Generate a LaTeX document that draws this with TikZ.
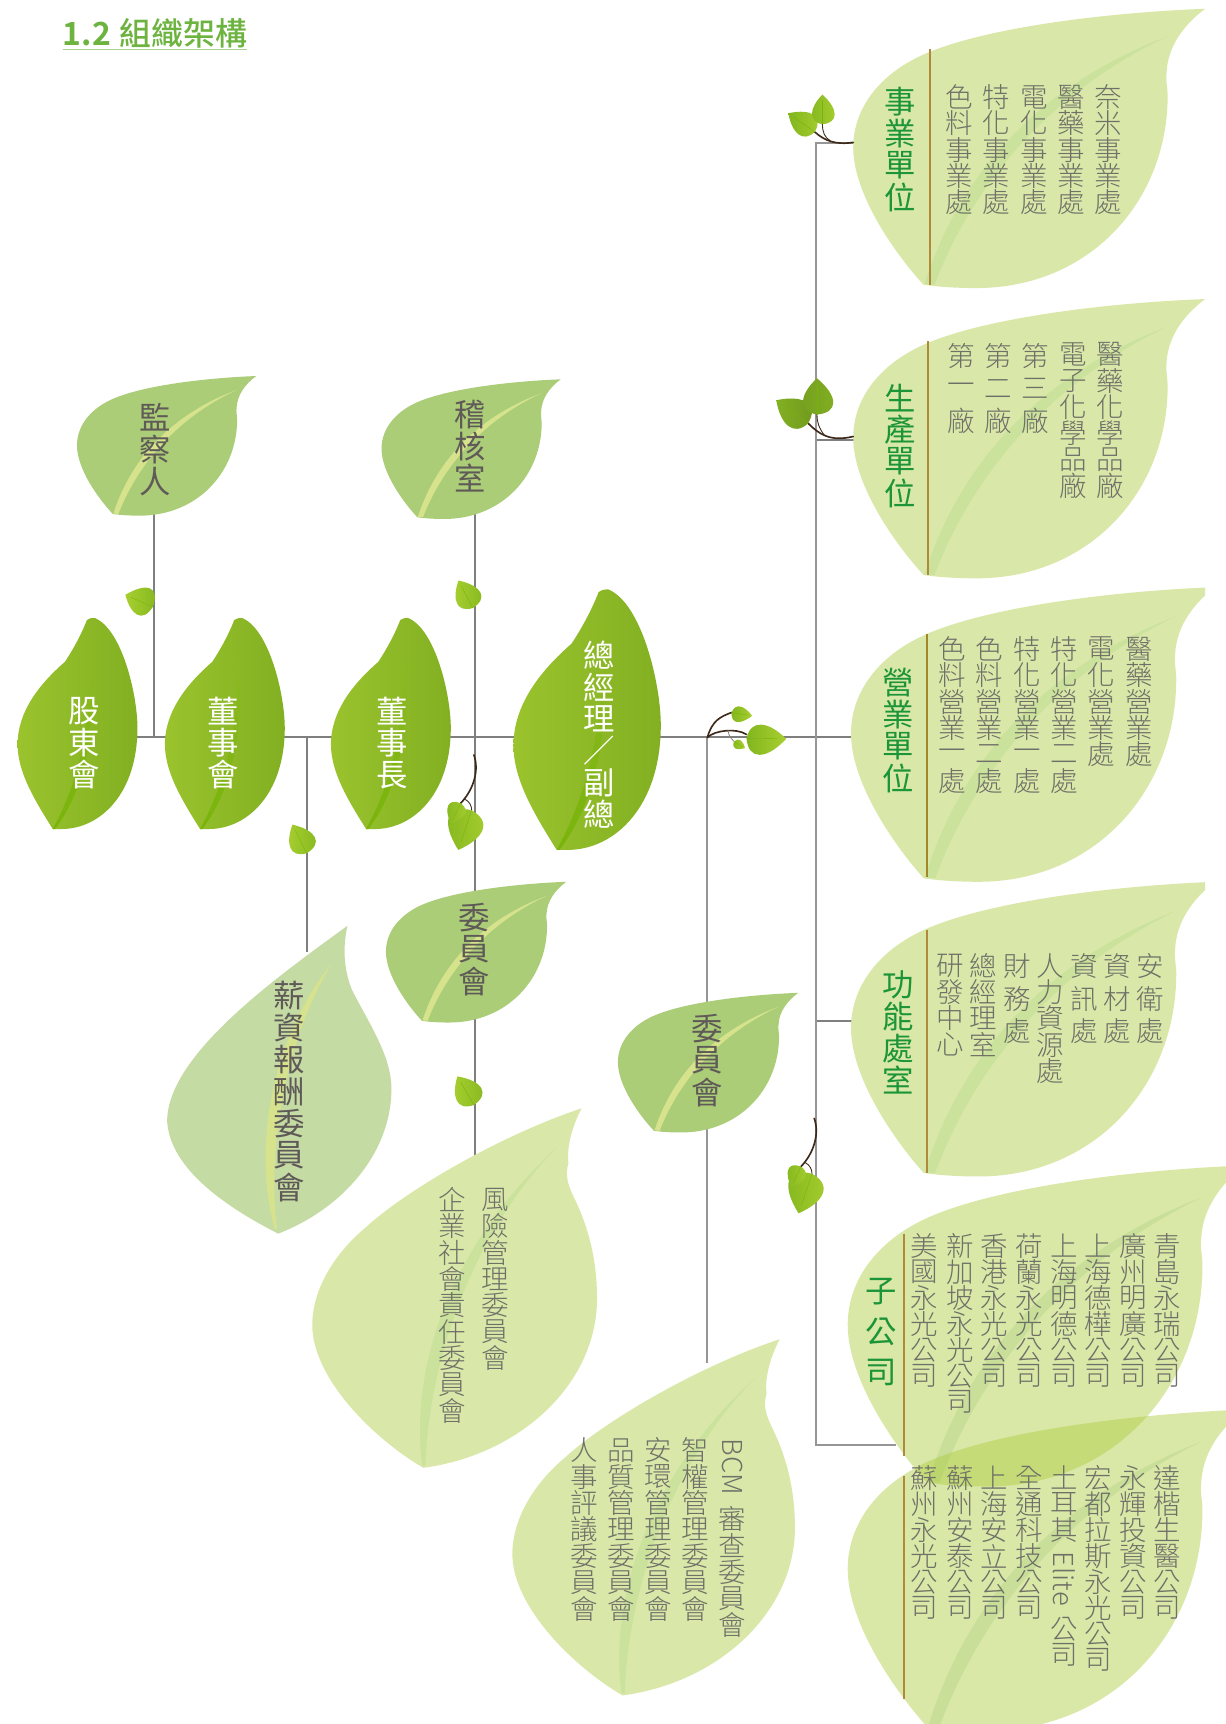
\documentclass[tikz,border=0pt]{standalone}
\usepackage{graphicx}
\usepackage{fontspec}
\setmainfont{Noto Sans CJK TC}[UprightFont=* Light,BoldFont=* Bold]
\newfontfamily\regfont{Noto Sans CJK TC}
\newfontfamily\medfont{Noto Sans CJK TC Medium}
\definecolor{conncol}{HTML}{7F7F7F}
\definecolor{spinecol}{HTML}{969696}
\definecolor{paleleaf}{HTML}{D9E8A8}
\definecolor{paleveins}{HTML}{CBE29C}
\definecolor{glassleaf}{HTML}{ABCC3E}
\definecolor{glassvein}{HTML}{B6D689}
\definecolor{midleaf}{HTML}{ABCD78}
\definecolor{midvein}{HTML}{D6E38C}
\definecolor{softleaf}{HTML}{C5DBA4}
\definecolor{darkleft}{HTML}{9AC32D}
\definecolor{darkright}{HTML}{82B022}
\definecolor{darkvein}{HTML}{79B40A}
\definecolor{sprigA}{HTML}{A8CF30}
\definecolor{sprigB}{HTML}{82B61E}
\definecolor{stemcol}{HTML}{3E2A1A}
\definecolor{headgreen}{HTML}{1C9438}
\definecolor{titlegreen}{HTML}{6DB33F}
\definecolor{paletext}{HTML}{6F7068}
\definecolor{midtext}{HTML}{5F5A57}
\definecolor{rulecol}{HTML}{B08A3A}
% vertical text
\newcommand\vcol[2]{\vbox{\offinterlineskip\def\vpitch{#1}#2}}
\def\vcharloop#1{\ifx\relax#1\else\vbox to \vpitch{\vss\hbox to 1em{\hss#1\hss}\vss}\expandafter\vcharloop\fi}
\newcommand\vrun[1]{\vcharloop#1\relax}
\newcommand\vside[3]{\vbox{\kern#1pt\hbox to 1em{\hss\rotatebox{-90}{#2}\hss}\kern#3pt}}
\newcommand\col[6]{\node[#1,anchor=north] (#2) at (#3,#4) {\vcol{#5pt}{#6}};}
% leaf boxes
\newcommand\lbox[5]{\node[leafbox,minimum width=#4pt,minimum height=#5pt,anchor=north west] (#1) at (#2,#3) {};}
\newcommand\leafApath{(320,0) .. controls (240,3) and (130,15) .. (70,39) .. controls (25,57) and (0,90) .. (0,126) .. controls (0,170) and (40,225) .. (64,251) .. controls (78,253) and (95,254) .. (112,254) .. controls (215,254) and (286,175) .. (286,79) .. controls (286,72) and (284,65) .. (285,58) .. controls (286,35) and (300,15) .. (320,0) -- cycle}
\newcommand\veinApath{(65,250) .. controls (100,140) and (180,65) .. (286,25) .. controls (190,70) and (112,150) .. (74,251) -- cycle}
\newcommand\leafA[6][]{\begin{scope}[shift={(#2.north west)},xscale=#3/320,yscale=#4/254]
  \fill[#5,#1] \leafApath; \fill[#6,#1] \veinApath; \end{scope}}
\newcommand\leafBpath{(245,0) .. controls (170,25) and (85,75) .. (49,108) .. controls (20,132) and (0,165) .. (0,197) .. controls (0,245) and (55,300) .. (101,327) .. controls (190,315) and (259,250) .. (259,173) .. controls (259,135) and (250,105) .. (237,79) .. controls (232,68) and (230,60) .. (233,50) .. controls (231,35) and (237,15) .. (245,0) -- cycle}
\newcommand\veinBpath{(100,325) .. controls (88,230) and (130,120) .. (222,36) .. controls (145,115) and (106,230) .. (103,325) -- cycle}
\newcommand\leafB[5]{\begin{scope}[shift={(#1.north west)},xscale=#2/259,yscale=#3/327]
  \fill[#4] \leafBpath; \fill[#5] \veinBpath; \end{scope}}
\newcommand\leafD[3]{\begin{scope}[shift={(#1.north west)},xscale=#2/109,yscale=#3/192]
  \shade[left color=darkleft,right color=darkright] (32,192) .. controls (15,165) and (0,140) .. (0,115) .. controls (0,85) and (20,60) .. (43,40) .. controls (53,25) and (60,10) .. (63,2) .. controls (66,0) and (68,0) .. (70,0) .. controls (95,10) and (109,70) .. (109,100) .. controls (109,160) and (75,192) .. (40,192) -- cycle;
  \shade[top color=darkleft!50!darkright,bottom color=darkvein] (32,192) .. controls (55,150) and (68,100) .. (67,20) .. controls (72,90) and (66,150) .. (34,192) -- cycle;
  \end{scope}}
% small leaf: base, tip, width, two colours
\newcommand\sleaf[7]{\begingroup
  \pgfmathsetmacro\sang{atan2(-((#4)-(#2)),(#3)-(#1))}%
  \pgfmathsetmacro\slen{veclen((#3)-(#1),(#4)-(#2))}%
  \begin{scope}[shift={(#1,#2)},rotate=\sang,scale=\slen]
  \shade[left color=#6,right color=#7] (0,0) .. controls (0.05,#5) and (0.5,#5) .. (1,0) .. controls (0.55,-#5*0.8) and (0.1,-#5*0.9) .. (0,0) -- cycle;
  \draw[darkvein,line width=.35pt] (0,0) -- (0.8,0);
  \end{scope}\endgroup}
\newcommand\sprigBr[2]{\begin{scope}[shift={(#1,#2)}]
  \draw[stemline] (431,686.6) .. controls (436,700) and (431,718) .. (419,730.5);
  \draw[stemline,line width=.8pt] (423,727) .. controls (427,729) and (429,733) .. (429,737);
  \sleaf{429}{737}{416.8}{773}{0.62}{sprigB}{sprigA}
  \sleaf{419}{730.5}{410}{749}{0.6}{sprigB}{sprigA}
  \end{scope}}
\tikzset{
  leafbox/.style={inner sep=0pt,outer sep=0pt,draw=none},
  conn/.style={draw=conncol,line width=1.8pt},
  stemline/.style={draw=stemcol,line width=1.5pt,line cap=round},
  divider/.style={draw=rulecol,line width=2pt},
  colpale/.style={inner sep=0pt,text=paletext,font=\fontsize{25}{25}\selectfont},
  colhead/.style={inner sep=0pt,text=headgreen,font=\regfont\fontsize{28.5}{28.5}\selectfont},
  colmid/.style={inner sep=0pt,text=midtext,font=\regfont\fontsize{28.5}{28.5}\selectfont},
  colwhite/.style={inner sep=0pt,text=white,font=\regfont\fontsize{28.5}{28.5}\selectfont},
}
\begin{document}
\begin{tikzpicture}[x=1pt,y=-1pt]
\useasboundingbox (0,0) rectangle (1115,1568);
\clip (0,0) rectangle (1115,1568);
\fill[white] (0,0) rectangle (1115,1568);
% invisible leaf boxes
\lbox{shiye}{776}{8}{320}{254}
\lbox{sheng}{776}{272}{320}{254}
\lbox{yingye}{774}{534}{331}{268}
\lbox{gongneng}{774}{802}{331}{268}
\lbox{zigs}{771}{1060}{361}{292}
\lbox{zigsb}{771}{1282}{361}{292}
\lbox{jiancha}{70}{342}{163}{127}
\lbox{jihe}{347}{345}{163}{127}
\lbox{weia}{351}{802}{164}{128}
\lbox{weib}{562}{903}{164}{127}
\lbox{gudong}{16}{562}{109}{192}
\lbox{dongshi}{150}{562}{109}{192}
\lbox{dongzhang}{301}{562}{109}{192}
\lbox{zongjingli}{467}{536}{134}{237}
\lbox{xinzi}{152}{842}{204}{280}
\lbox{fengxian}{284}{1008}{259}{327}
\lbox{bcm}{466}{1218}{257}{324}
% connector ends
\coordinate (trunk) at (0,670);
\coordinate (spine) at (742,0);
\coordinate (jianchaOut) at (140,460);
\coordinate (jiheOut) at (432,465);
\coordinate (weiaIn) at (432,818);
\coordinate (weiaOut) at (432,925);
\coordinate (fengxianIn) at (432,1055);
\coordinate (xinziJoin) at (279,670);
\coordinate (xinziIn) at (279,866);
\coordinate (weibJoin) at (643,670);
\coordinate (weibIn) at (643,915);
\coordinate (weibOut) at (643,1025);
\coordinate (bcmIn) at (643,1240);
\coordinate (shiyeIn) at (790,130);
\coordinate (shengIn) at (790,400);
\coordinate (gongnengIn) at (790,929);
\coordinate (zigsIn) at (815,1314);
% connectors
\draw[conn] (gudong |- trunk) -- (yingye |- trunk);
\draw[conn] (jianchaOut) -- (jianchaOut |- trunk);
\draw[conn] (jiheOut) -- (weiaIn);
\draw[conn] (weiaOut) -- (fengxianIn);
\draw[conn] (xinziJoin) -- (xinziIn);
\draw[conn,draw=spinecol,line width=2pt] (weibJoin) -- (weibIn);
\draw[conn,draw=spinecol,line width=2pt] (weibOut) -- (bcmIn);
\draw[conn] (shengIn) -- (shengIn -| spine);
\draw[conn] (gongnengIn) -- (gongnengIn -| spine);
\draw[conn,line width=2.2pt,draw=spinecol] (shiyeIn) -- (shiyeIn -| spine) -- (zigsIn -| spine) -- (zigsIn);
% leaves
\leafA{shiye}{320}{254}{paleleaf}{paleveins}
\leafA{sheng}{320}{254}{paleleaf}{paleveins}
\begin{scope}
\clip (0,0) rectangle (1096,1568);
\leafA{yingye}{331}{268}{paleleaf}{paleveins}
\leafA{gongneng}{331}{268}{paleleaf}{paleveins}
\end{scope}
\leafA[opacity=0.45]{zigs}{361}{292}{glassleaf}{glassvein}
\leafA[opacity=0.45]{zigsb}{361}{292}{glassleaf}{glassvein}
\leafA{jiancha}{163}{127}{midleaf}{midvein}
\leafA{jihe}{163}{127}{midleaf}{midvein}
\leafA{weia}{164}{128}{midleaf}{midvein}
\leafA{weib}{164}{127}{midleaf}{midvein}
\leafD{gudong}{109}{192}
\leafD{dongshi}{109}{192}
\leafD{dongzhang}{109}{192}
\leafD{zongjingli}{134}{237}
% salary committee leaf
\fill[softleaf] (316,842) .. controls (250,890) and (152,960) .. (152,1020) .. controls (155,1065) and (210,1100) .. (253,1122) .. controls (310,1100) and (356,1050) .. (356,990) .. controls (356,960) and (335,930) .. (320,900) .. controls (312,880) and (312,860) .. (316,842) -- cycle;
\fill[midvein] (250,1118) .. controls (228,1040) and (250,940) .. (302,876) .. controls (262,940) and (242,1040) .. (252,1118) -- cycle;
\leafB{fengxian}{259}{327}{paleleaf}{paleveins}
\leafB{bcm}{257}{324}{paleleaf}{paleveins}
% dividers
\draw[divider] (846,45) -- (846,259);
\draw[divider] (844,310) -- (844,523);
\draw[divider,draw=rulecol!70!olive] (843,577) -- (843,798);
\draw[divider] (843,846) -- (843,1067);
\draw[divider] (822,1122) -- (822,1324);
\draw[divider] (822,1342) -- (822,1545);
% sprigs
\draw[stemline] (776,129.5) .. controls (760,132) and (750,128) .. (741,120);
\draw[stemline,line width=.8pt] (755,128) .. controls (750,125) and (748,120) .. (748,113);
\sleaf{741}{120}{717}{103}{0.55}{sprigB}{sprigA}
\sleaf{748}{113}{748}{86}{0.55}{sprigB}{sprigA}
\draw[stemline] (776,397) .. controls (755,402) and (745,395) .. (735,385);
\draw[stemline,line width=.8pt] (750,396) .. controls (745,390) and (743,384) .. (743,377);
\sleaf{735}{385}{706}{364}{0.55}{darkright}{darkright!85!black}
\sleaf{743}{377}{743}{344}{0.6}{darkright!90!black}{darkright}
\draw[stemline] (643.3,670.8) .. controls (648,655) and (655,652) .. (665.4,648);
\draw[stemline] (643.3,670.8) .. controls (650,664) and (670,662) .. (679,668);
\draw[stemline,line width=.7pt,draw=stemcol!60] (662,664) .. controls (663,670) and (665,672) .. (667.7,674.5);
\sleaf{665.4}{648}{684}{651}{0.55}{sprigB}{sprigA}
\sleaf{679}{671.5}{715}{672}{0.55}{sprigB}{sprigA}
\sleaf{667.7}{674.5}{677.6}{680.4}{0.55}{sprigB}{sprigA}
\sleaf{139}{552}{114}{541}{0.7}{sprigA}{sprigB}
\sleaf{430}{553}{417}{528}{0.6}{sprigA}{sprigB}
\sleaf{279}{776}{266}{750}{0.6}{sprigA}{sprigB}
\sleaf{431}{1005}{416}{979}{0.6}{sprigA}{sprigB}
\sprigBr{0}{0}
\sprigBr{309.5}{330.5}
% title
\node[inner sep=0pt,anchor=base west,text=titlegreen,font=\fontsize{29}{29}\selectfont] (title) at (57,41) {\textbf{1.2}\hspace{0.28em}{\medfont 組織架構}};
\coordinate (titleL) at (57,45);
\coordinate (titleR) at (225,45);
\draw[draw=titlegreen!60,line width=1.2pt] (titleL) -- (titleR);
% heads and columns
\col{colhead}{t1}{819}{78}{29}{\vrun{事業單位}}
\col{colpale}{a1}{872}{76}{24}{\vrun{色料事業處}}
\col{colpale}{a2}{906.5}{76}{24}{\vrun{特化事業處}}
\col{colpale}{a3}{940.5}{76}{24}{\vrun{電化事業處}}
\col{colpale}{a4}{974.5}{76}{24}{\vrun{醫藥事業處}}
\col{colpale}{a5}{1008}{76}{24}{\vrun{奈米事業處}}
\col{colhead}{t2}{819}{347}{29}{\vrun{生產單位}}
\col{colpale}{b1}{874}{309}{29.5}{\vrun{第一廠}}
\col{colpale}{b2}{908}{309}{29.5}{\vrun{第二廠}}
\col{colpale}{b3}{942}{309}{29.5}{\vrun{第三廠}}
\col{colpale}{b4}{976}{310}{24}{\vrun{電子化學品廠}}
\col{colpale}{b5}{1010}{310}{24}{\vrun{醫藥化學品廠}}
\col{colhead}{t3}{817}{606}{29}{\vrun{營業單位}}
\col{colpale}{c1}{866}{578}{24}{\vrun{色料營業一處}}
\col{colpale}{c2}{900}{578}{24}{\vrun{色料營業二處}}
\col{colpale}{c3}{934}{578}{24}{\vrun{特化營業一處}}
\col{colpale}{c4}{968}{578}{24}{\vrun{特化營業二處}}
\col{colpale}{c5}{1002}{578}{24}{\vrun{電化營業處}}
\col{colpale}{c6}{1036}{578}{24}{\vrun{醫藥營業處}}
\col{colhead}{t4}{817}{881}{29}{\vrun{功能處室}}
\col{colpale}{d1}{864}{866}{24}{\vrun{研發中心}}
\col{colpale}{d2}{894}{866}{24}{\vrun{總經理室}}
\col{colpale}{d3}{925}{864}{29.5}{\vrun{財務處}}
\col{colpale}{d4}{955}{866}{24}{\vrun{人力資源處}}
\col{colpale}{d5}{986}{864}{29.5}{\vrun{資訊處}}
\col{colpale}{d6}{1016}{864}{29.5}{\vrun{資材處}}
\col{colpale}{d7}{1046}{864}{29.5}{\vrun{安衛處}}
\col{colhead}{t5}{801.5}{1156}{37}{\vrun{子公司}}
\col{colpale}{e1}{841}{1121}{23.7}{\vrun{美國永光公司}}
\col{colpale}{e2}{873}{1121}{23.7}{\vrun{新加坡永光公司}}
\col{colpale}{e3}{904}{1121}{23.7}{\vrun{香港永光公司}}
\col{colpale}{e4}{936}{1121}{23.7}{\vrun{荷蘭永光公司}}
\col{colpale}{e5}{967.5}{1121}{23.7}{\vrun{上海明德公司}}
\col{colpale}{e6}{999}{1121}{23.7}{\vrun{上海德樺公司}}
\col{colpale}{e7}{1030.5}{1121}{23.7}{\vrun{廣州明廣公司}}
\col{colpale}{e8}{1062}{1121}{23.7}{\vrun{青島永瑞公司}}
\col{colpale}{f1}{841}{1332}{23.7}{\vrun{蘇州永光公司}}
\col{colpale}{f2}{873}{1332}{23.7}{\vrun{蘇州安泰公司}}
\col{colpale}{f3}{904}{1332}{23.7}{\vrun{上海安立公司}}
\col{colpale}{f4}{936}{1332}{23.7}{\vrun{全通科技公司}}
\col{colpale}{f5}{967.5}{1332}{23.7}{\vrun{土耳其}\vside{8}{Elite}{9}\vrun{公司}}
\col{colpale}{f6}{999}{1332}{23.7}{\vrun{宏都拉斯永光公司}}
\col{colpale}{f7}{1030.5}{1332}{23.7}{\vrun{永輝投資公司}}
\col{colpale}{f8}{1062}{1332}{23.7}{\vrun{達楷生醫公司}}
\col{colmid}{m1}{141.5}{365}{29}{\vrun{監察人}}
\col{colmid}{m2}{428}{362}{29}{\vrun{稽核室}}
\col{colmid}{m3}{431.5}{820}{29}{\vrun{委員會}}
\col{colmid}{m4}{643}{921}{29}{\vrun{委員會}}
\col{colmid}{m5}{263}{891}{29}{\vrun{薪資報酬委員會}}
\col{colwhite}{w1}{77}{632}{29}{\vrun{股東會}}
\col{colwhite}{w2}{203}{632}{29}{\vrun{董事會}}
\col{colwhite}{w3}{357}{632}{29}{\vrun{董事長}}
\col{colwhite}{w4}{545}{581}{29}{\vrun{總經理／副總}}
\col{colpale}{g1}{450}{1079}{24}{\vrun{風險管理委員會}}
\col{colpale}{g2}{411}{1079}{24}{\vrun{企業社會責任委員會}}
\col{colpale}{h1}{666}{1308}{24}{\vside{0}{BCM}{10}\vrun{審查委員會}}
\col{colpale}{h2}{632.5}{1307}{24}{\vrun{智權管理委員會}}
\col{colpale}{h3}{599}{1307}{24}{\vrun{安環管理委員會}}
\col{colpale}{h4}{565}{1307}{24}{\vrun{品質管理委員會}}
\col{colpale}{h5}{531}{1307}{24}{\vrun{人事評議委員會}}
\end{tikzpicture}
\end{document}
